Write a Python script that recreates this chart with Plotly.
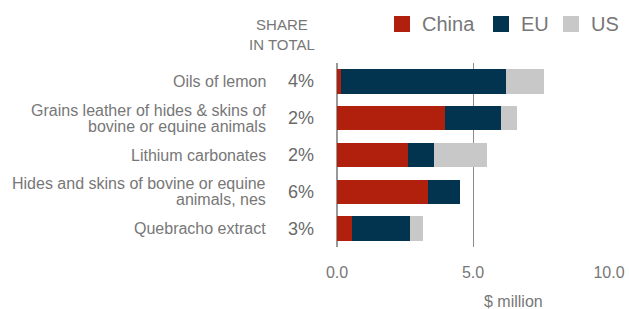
import plotly.graph_objects as go

categories = ["Oils of lemon",
              "Grains leather of hides & skins of<br>bovine or equine animals",
              "Lithium carbonates",
              "Hides and skins of bovine or equine<br>animals, nes",
              "Quebracho extract"]
share_labels = ["4%", "2%", "2%", "6%", "3%"]
china = [0.15, 3.96, 2.60, 3.35, 0.54]
eu = [6.05, 2.06, 0.97, 1.17, 2.14]
us = [1.40, 0.58, 1.95, 0.0, 0.49]
series_names = ["China", "EU", "US"]
series_colors = ["#B0200C", "#03344F", "#C8C8C8"]
x_ticks = [0, 5, 10]
x_tick_text = ["0.0", "5.0", "10.0"]

FONT = "Liberation Sans, Arial, sans-serif"
GREY_TXT = "#777777"

L, R, T, B = 337, 20, 63, 62
W, H = 629, 309
pw = W - L - R
ph = H - T - B

def px_x(px):
    return (px - L) / pw

def px_y(py):
    return 1 - (py - T) / ph

fig = go.Figure()
for name, vals, col in zip(series_names, [china, eu, us], series_colors):
    fig.add_trace(go.Bar(y=categories, x=vals, name=name, orientation="h",
                         marker=dict(color=col, line=dict(width=0)),
                         width=0.66, showlegend=False))

annotations = []
shapes = []
for cat, sh in zip(categories, share_labels):
    lines = cat.split("<br>")
    n = len(lines)
    for i, ln in enumerate(lines):
        shift = (-(i - (n - 1) / 2)) * 16
        annotations.append(dict(text=ln, x=px_x(268), xref="paper", xanchor="right",
                                y=cat, yref="y", yanchor="middle", yshift=shift,
                                showarrow=False, font=dict(family=FONT, size=16, color=GREY_TXT)))
    annotations.append(dict(text=sh, x=px_x(316), xref="paper", xanchor="right",
                            y=cat, yref="y", yanchor="middle",
                            showarrow=False, font=dict(family=FONT, size=18, color="#6a6a6a")))

annotations.append(dict(text="SHARE<br>IN TOTAL", x=px_x(282), xref="paper", xanchor="center",
                        y=px_y(34), yref="paper", yanchor="middle",
                        showarrow=False, font=dict(family=FONT, size=15, color=GREY_TXT)))
annotations.append(dict(text="$ million", x=px_x(513), xref="paper", xanchor="center",
                        y=px_y(301), yref="paper", yanchor="middle",
                        showarrow=False, font=dict(family=FONT, size=16, color=GREY_TXT)))

# custom legend
legend_sq_x = [394, 493, 563]
for name, col, sx in zip(series_names, series_colors, legend_sq_x):
    shapes.append(dict(type="rect", xref="paper", yref="paper",
                       x0=px_x(sx), x1=px_x(sx + 16), y0=px_y(32), y1=px_y(16),
                       fillcolor=col, line=dict(width=0)))
    annotations.append(dict(text=name, x=px_x(sx + 26), xref="paper", xanchor="left",
                            y=px_y(24), yref="paper", yanchor="middle",
                            showarrow=False, font=dict(family=FONT, size=20, color=GREY_TXT)))

fig.update_layout(
    width=W, height=H,
    margin=dict(l=L, r=R, t=T, b=B, pad=0, autoexpand=False),
    barmode="stack",
    plot_bgcolor="white", paper_bgcolor="white",
    font=dict(family=FONT, color=GREY_TXT),
    showlegend=False,
    xaxis=dict(range=[0, 10], tickvals=x_ticks, ticktext=x_tick_text,
               showgrid=True, gridcolor="#8c8c8c", gridwidth=1,
               zeroline=True, zerolinecolor="#999999", zerolinewidth=2,
               showline=False, ticks="", tickfont=dict(family=FONT, size=16, color=GREY_TXT),
               ticklabelstandoff=14, fixedrange=True, automargin=False),
    yaxis=dict(autorange="reversed", showticklabels=False, showgrid=False, zeroline=False,
               showline=False, ticks="", fixedrange=True, automargin=False),
    annotations=annotations,
    shapes=shapes,
)

fig.write_html("out.html", config={"displayModeBar": False},
               post_script="document.body.style.margin='0';document.body.style.overflow='hidden';")
